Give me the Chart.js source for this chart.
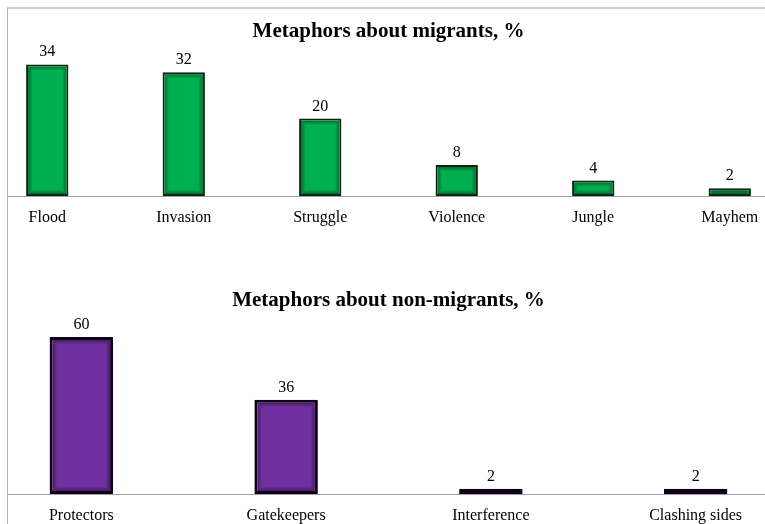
<!DOCTYPE html>
<html>
<head>
<meta charset="utf-8">
<script src="https://cdn.jsdelivr.net/npm/chart.js@4.4.1/dist/chart.umd.min.js"></script>
<style>
  html, body { margin: 0; padding: 0; background: #fff; }
  #page { position: relative; width: 765px; height: 524px; overflow: hidden; background: #fff; }
  #frame { position: absolute; left: 7px; top: 7px; right: -2px; bottom: -2px;
           border-left: 1px solid #b4b4b4; border-top: 2px solid #cfcfcf; }
  .clip { position: absolute; left: 8px; right: 0; overflow: hidden; }
  .clip canvas { position: absolute; left: -29px; top: 0; }
</style>
</head>
<body>
<div id="page">
  <div id="frame"></div>
  <div class="clip" style="top:9px;height:240px;"><canvas id="migrants" width="819" height="240"></canvas></div>
  <div class="clip" style="top:270px;height:254px;"><canvas id="nonMigrants" width="819" height="268"></canvas></div>
</div>
<script>
// metaphors used for migrants, %
const migrantLabels = ["Flood", "Invasion", "Struggle", "Violence", "Jungle", "Mayhem"];
const migrantValues = [34, 32, 20, 8, 4, 2];

// metaphors used for non-migrants, %
const nonMigrantLabels = ["Protectors", "Gatekeepers", "Interference", "Clashing sides"];
const nonMigrantValues = [60, 36, 2, 2];

const serif = "'Liberation Serif', 'Times New Roman', serif";

// value above each bar + darker inner edge on the bars
const barDecor = {
  id: "barDecor",
  afterDatasetsDraw(chart) {
    const ctx = chart.ctx;
    const meta = chart.getDatasetMeta(0);
    const ds = chart.data.datasets[0];
    const bw = ds.borderWidth;
    meta.data.forEach((bar, i) => {
      const left = bar.x - bar.width / 2;
      const top = bar.y;
      const w = bar.width;
      const h = bar.base - bar.y;
      ctx.save();
      ctx.beginPath();
      ctx.rect(left + bw, top + bw, w - 2 * bw, h - 2 * bw);
      ctx.clip();
      for (let k = 0; k < 4; k++) {
        ctx.strokeStyle = "rgba(0,0,0," + (0.34 * (1 - k / 4)) + ")";
        ctx.lineWidth = 1;
        ctx.strokeRect(left + bw + k + 0.5, top + bw + k + 0.5, w - 2 * bw - 2 * k - 1, h - 2 * bw - 2 * k - 1);
      }
      ctx.restore();

      ctx.save();
      ctx.fillStyle = "#000";
      ctx.font = "16px " + serif;
      ctx.textAlign = "center";
      ctx.textBaseline = "alphabetic";
      ctx.fillText(ds.data[i], bar.x, top - 8);
      ctx.restore();
    });
  }
};

function makeChart(id, labels, values, title, yMax, fill, edge, edgeWidth, titlePad, bottomPad) {
  return new Chart(document.getElementById(id), {
    type: "bar",
    data: {
      labels: labels,
      datasets: [{
        data: values,
        backgroundColor: fill,
        borderColor: edge,
        borderWidth: edgeWidth,
        borderSkipped: false,
        categoryPercentage: 1,
        barPercentage: 0.31
      }]
    },
    options: {
      responsive: false,
      animation: false,
      layout: { padding: { top: 0, left: 0, right: 0, bottom: bottomPad } },
      plugins: {
        legend: { display: false },
        tooltip: { enabled: false },
        title: {
          display: true,
          text: title,
          color: "#000",
          font: { family: serif, size: 21, weight: "bold" },
          padding: titlePad
        }
      },
      scales: {
        x: {
          grid: { display: false, drawTicks: false },
          border: { display: true, color: "#a0a0a0", width: 1 },
          ticks: { color: "#000", font: { family: serif, size: 16 }, padding: 12, maxRotation: 0, autoSkip: false }
        },
        y: { display: false, min: 0, max: yMax }
      }
    },
    plugins: [barDecor]
  });
}

makeChart("migrants", migrantLabels, migrantValues, "Metaphors about migrants, %", 38,
  "#00b050", "#0a2410", 2, { top: 9.6, bottom: 5.1 }, 9.8);
makeChart("nonMigrants", nonMigrantLabels, nonMigrantValues, "Metaphors about non-migrants, %", 69.3,
  "#7030a0", "#10001a", 3, { top: 17.5, bottom: 0 }, 0.8);
</script>
</body>
</html>
